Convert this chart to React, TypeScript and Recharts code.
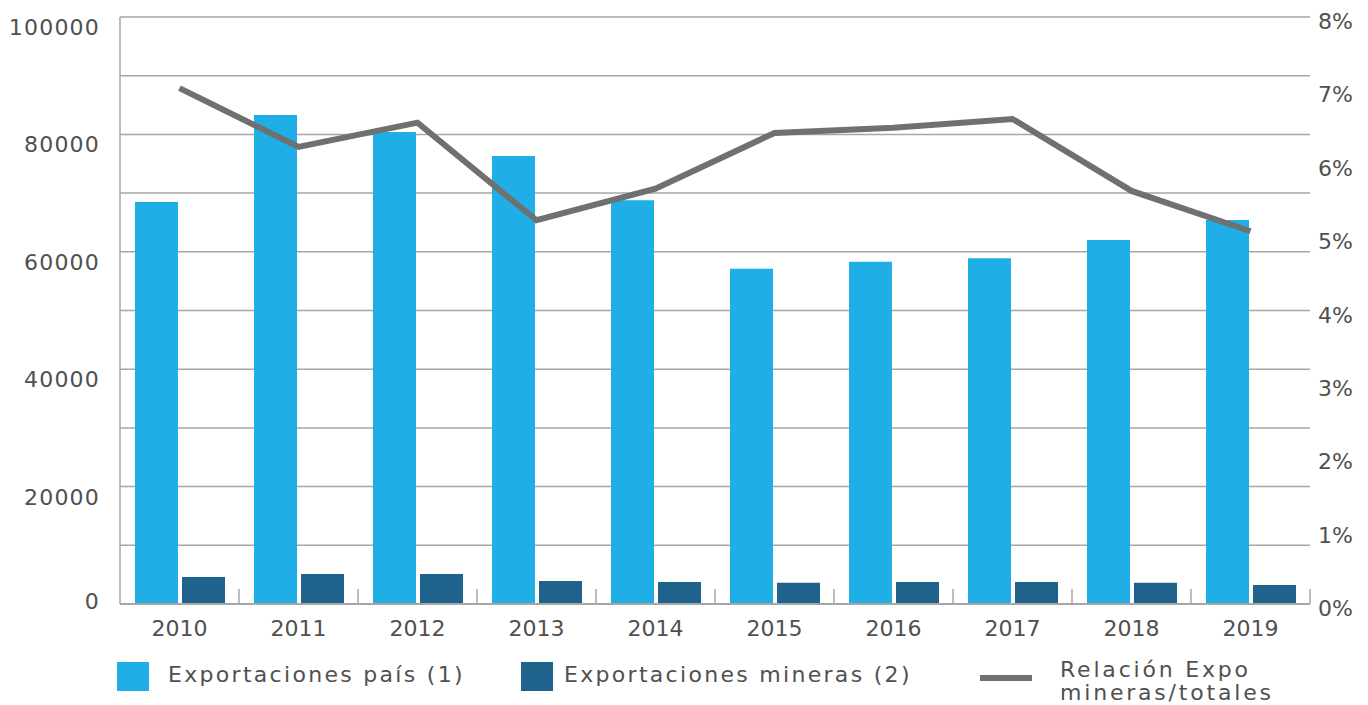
import { ComposedChart, Bar, Line, XAxis, YAxis, CartesianGrid } from "recharts";

const years = ["2010", "2011", "2012", "2013", "2014", "2015", "2016", "2017", "2018", "2019"];
const exportPais = [68500, 83300, 80400, 76300, 68800, 57100, 58300, 58900, 62000, 65400];
const exportMineras = [4600, 5100, 5100, 3900, 3750, 3600, 3750, 3750, 3600, 3250];
const relacion = [7.03, 6.23, 6.56, 5.23, 5.66, 6.42, 6.49, 6.61, 5.63, 5.08];
const leftTicks = [0, 10000, 20000, 30000, 40000, 50000, 60000, 70000, 80000, 90000, 100000];
const rightTicks = [0, 1, 2, 3, 4, 5, 6, 7, 8];

const data = years.map((y, i) => ({
  year: y,
  pais: exportPais[i],
  mineras: exportMineras[i],
  ratio: relacion[i],
}));

const W = 1352;
const H = 640;
const PLOT_LEFT = 112;
const PLOT_RIGHT = 50;
const BAND = (W - PLOT_LEFT - PLOT_RIGHT) / years.length;

const FONT = "'DejaVu Sans', sans-serif";
const INK = "#505050";
const AXIS = "#a6a6a6";

function LeftTick(props: any) {
  const { x, y, payload } = props;
  const v = payload.value as number;
  if (v % 20000 !== 0) return null;
  return (
    <text
      x={x}
      y={y}
      dy={v === 0 ? 5 : 18}
      textAnchor="end"
      fill={INK}
      fontSize={22}
      fontFamily={FONT}
      letterSpacing={1.2}
    >
      {v}
    </text>
  );
}

function RightTick(props: any) {
  const { x, y, payload } = props;
  return (
    <text x={x} y={y} dy={12} textAnchor="start" fill={INK} fontSize={22} fontFamily={FONT}>
      {`${payload.value}%`}
    </text>
  );
}

function YearTick(props: any) {
  const { x, y, payload, index } = props;
  const left = x - BAND / 2;
  const right = x + BAND / 2;
  return (
    <g>
      {index > 0 && <line x1={left} x2={left} y1={y - 15} y2={y} stroke={AXIS} strokeWidth={1.5} />}
      {index === years.length - 1 && (
        <line x1={right} x2={right} y1={y - 15} y2={y} stroke={AXIS} strokeWidth={1.5} />
      )}
      <text x={x} y={y + 32} textAnchor="middle" fill={INK} fontSize={22} fontFamily={FONT}>
        {payload.value}
      </text>
    </g>
  );
}

const textStyle: React.CSSProperties = {
  position: "absolute",
  fontFamily: FONT,
  fontSize: 22,
  color: INK,
  whiteSpace: "nowrap",
  letterSpacing: 2.3,
};

export default function App() {
  return (
    <div style={{ position: "relative", width: W, height: 697 }}>
      <ComposedChart
        width={W}
        height={H}
        data={data}
        margin={{ top: 9, right: 0, left: 0, bottom: 4 }}
      >
        <CartesianGrid yAxisId="left" vertical={false} stroke={AXIS} strokeWidth={1.5} />
        <XAxis
          dataKey="year"
          height={40}
          tickLine={false}
          tickSize={0}
          tickMargin={0}
          axisLine={{ stroke: AXIS, strokeWidth: 2 }}
          tick={<YearTick />}
          interval={0}
        />
        <YAxis
          yAxisId="left"
          width={PLOT_LEFT}
          domain={[0, 100000]}
          ticks={leftTicks}
          interval={0}
          tickLine={false}
          tickSize={0}
          tickMargin={20}
          axisLine={{ stroke: AXIS, strokeWidth: 1.5 }}
          tick={<LeftTick />}
        />
        <YAxis
          yAxisId="right"
          orientation="right"
          width={PLOT_RIGHT}
          domain={[0, 8]}
          ticks={rightTicks}
          interval={0}
          tickLine={false}
          tickSize={0}
          tickMargin={8}
          axisLine={false}
          tick={<RightTick />}
        />
        <Bar yAxisId="left" dataKey="pais" fill="#1faee6" barSize={43} isAnimationActive={false} />
        <Bar yAxisId="left" dataKey="mineras" fill="#1f628c" barSize={43} isAnimationActive={false} />
        <Line
          yAxisId="right"
          dataKey="ratio"
          stroke="#6e7170"
          strokeWidth={6}
          dot={false}
          activeDot={false}
          isAnimationActive={false}
        />
      </ComposedChart>
      <div style={{ position: "absolute", left: 109, top: 654, width: 32, height: 29, background: "#1faee6" }} />
      <div style={{ ...textStyle, left: 160, top: 654 }}>Exportaciones país (1)</div>
      <div style={{ position: "absolute", left: 513, top: 654, width: 32, height: 29, background: "#1f628c" }} />
      <div style={{ ...textStyle, left: 556, top: 654 }}>Exportaciones mineras (2)</div>
      <div style={{ position: "absolute", left: 972, top: 667, width: 52, height: 6, background: "#6e7170" }} />
      <div style={{ ...textStyle, left: 1052, top: 650, lineHeight: "23px", letterSpacing: 2.8 }}>
        Relación Expo
        <br />
        mineras/totales
      </div>
    </div>
  );
}
